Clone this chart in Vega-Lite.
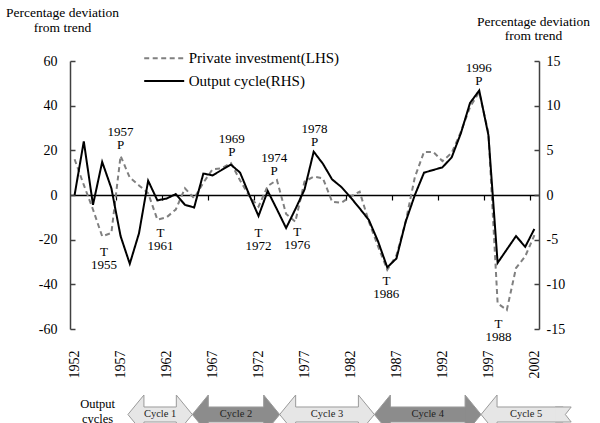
{
  "$schema": "https://vega.github.io/schema/vega-lite/v6.json",
  "padding": {"left": 5, "top": 5, "right": 0, "bottom": 0},
  "config": {
    "font": "Liberation Serif, Times New Roman, serif",
    "view": {"stroke": null},
    "axis": {"labelFont": "Liberation Serif, Times New Roman, serif", "titleFont": "Liberation Serif, Times New Roman, serif", "labelColor": "#000", "titleColor": "#000", "labelFontSize": 14, "titleFontSize": 13.5, "titleFontWeight": "normal", "grid": false},
    "legend": {"labelFont": "Liberation Serif, Times New Roman, serif"},
    "text": {"font": "Liberation Serif, Times New Roman, serif"}
  },
  "datasets": {
    "series": [
      {"year":1952,"series":"Private investment(LHS)","value":16},
      {"year":1953,"series":"Private investment(LHS)","value":4.5},
      {"year":1954,"series":"Private investment(LHS)","value":-6.5},
      {"year":1955,"series":"Private investment(LHS)","value":-18.5},
      {"year":1956,"series":"Private investment(LHS)","value":-17},
      {"year":1957,"series":"Private investment(LHS)","value":17.5},
      {"year":1958,"series":"Private investment(LHS)","value":7.8},
      {"year":1959,"series":"Private investment(LHS)","value":4.3},
      {"year":1960,"series":"Private investment(LHS)","value":0.8},
      {"year":1961,"series":"Private investment(LHS)","value":-11},
      {"year":1962,"series":"Private investment(LHS)","value":-10},
      {"year":1963,"series":"Private investment(LHS)","value":-6.5},
      {"year":1964,"series":"Private investment(LHS)","value":3},
      {"year":1965,"series":"Private investment(LHS)","value":-1.5},
      {"year":1966,"series":"Private investment(LHS)","value":5.5},
      {"year":1967,"series":"Private investment(LHS)","value":11.5},
      {"year":1968,"series":"Private investment(LHS)","value":12},
      {"year":1969,"series":"Private investment(LHS)","value":14.3},
      {"year":1970,"series":"Private investment(LHS)","value":6.5},
      {"year":1971,"series":"Private investment(LHS)","value":-0.5},
      {"year":1972,"series":"Private investment(LHS)","value":-5.2},
      {"year":1973,"series":"Private investment(LHS)","value":4},
      {"year":1974,"series":"Private investment(LHS)","value":6.7},
      {"year":1975,"series":"Private investment(LHS)","value":-8.5},
      {"year":1976,"series":"Private investment(LHS)","value":-12},
      {"year":1977,"series":"Private investment(LHS)","value":6},
      {"year":1978,"series":"Private investment(LHS)","value":8.2},
      {"year":1979,"series":"Private investment(LHS)","value":7.5},
      {"year":1980,"series":"Private investment(LHS)","value":-3},
      {"year":1981,"series":"Private investment(LHS)","value":-3.5},
      {"year":1982,"series":"Private investment(LHS)","value":-0.7},
      {"year":1983,"series":"Private investment(LHS)","value":1.5},
      {"year":1984,"series":"Private investment(LHS)","value":-12},
      {"year":1985,"series":"Private investment(LHS)","value":-23},
      {"year":1986,"series":"Private investment(LHS)","value":-33.5},
      {"year":1987,"series":"Private investment(LHS)","value":-27},
      {"year":1988,"series":"Private investment(LHS)","value":-12},
      {"year":1989,"series":"Private investment(LHS)","value":8},
      {"year":1990,"series":"Private investment(LHS)","value":19.3},
      {"year":1991,"series":"Private investment(LHS)","value":19.3},
      {"year":1992,"series":"Private investment(LHS)","value":15.2},
      {"year":1993,"series":"Private investment(LHS)","value":18.8},
      {"year":1994,"series":"Private investment(LHS)","value":28.2},
      {"year":1995,"series":"Private investment(LHS)","value":39.4},
      {"year":1996,"series":"Private investment(LHS)","value":46},
      {"year":1997,"series":"Private investment(LHS)","value":27.8},
      {"year":1998,"series":"Private investment(LHS)","value":-48.5},
      {"year":1999,"series":"Private investment(LHS)","value":-51.5},
      {"year":2000,"series":"Private investment(LHS)","value":-32.7},
      {"year":2001,"series":"Private investment(LHS)","value":-27.5},
      {"year":2002,"series":"Private investment(LHS)","value":-18},
      {"year":1952,"series":"Output cycle(RHS)","value":0},
      {"year":1953,"series":"Output cycle(RHS)","value":6.0},
      {"year":1954,"series":"Output cycle(RHS)","value":-1.1},
      {"year":1955,"series":"Output cycle(RHS)","value":3.7},
      {"year":1956,"series":"Output cycle(RHS)","value":0.75},
      {"year":1957,"series":"Output cycle(RHS)","value":-4.6},
      {"year":1958,"series":"Output cycle(RHS)","value":-7.7},
      {"year":1959,"series":"Output cycle(RHS)","value":-4.3},
      {"year":1960,"series":"Output cycle(RHS)","value":1.6},
      {"year":1961,"series":"Output cycle(RHS)","value":-0.6},
      {"year":1962,"series":"Output cycle(RHS)","value":-0.4},
      {"year":1963,"series":"Output cycle(RHS)","value":0.1},
      {"year":1964,"series":"Output cycle(RHS)","value":-1.1},
      {"year":1965,"series":"Output cycle(RHS)","value":-1.4},
      {"year":1966,"series":"Output cycle(RHS)","value":2.4},
      {"year":1967,"series":"Output cycle(RHS)","value":2.2},
      {"year":1968,"series":"Output cycle(RHS)","value":2.8},
      {"year":1969,"series":"Output cycle(RHS)","value":3.4},
      {"year":1970,"series":"Output cycle(RHS)","value":2.5},
      {"year":1971,"series":"Output cycle(RHS)","value":0.0},
      {"year":1972,"series":"Output cycle(RHS)","value":-2.35},
      {"year":1973,"series":"Output cycle(RHS)","value":0.45},
      {"year":1974,"series":"Output cycle(RHS)","value":-1.6},
      {"year":1975,"series":"Output cycle(RHS)","value":-3.7},
      {"year":1976,"series":"Output cycle(RHS)","value":-1.6},
      {"year":1977,"series":"Output cycle(RHS)","value":0.6},
      {"year":1978,"series":"Output cycle(RHS)","value":4.85},
      {"year":1979,"series":"Output cycle(RHS)","value":3.5},
      {"year":1980,"series":"Output cycle(RHS)","value":1.75},
      {"year":1981,"series":"Output cycle(RHS)","value":0.9},
      {"year":1982,"series":"Output cycle(RHS)","value":-0.25},
      {"year":1983,"series":"Output cycle(RHS)","value":-1.5},
      {"year":1984,"series":"Output cycle(RHS)","value":-2.8},
      {"year":1985,"series":"Output cycle(RHS)","value":-5.2},
      {"year":1986,"series":"Output cycle(RHS)","value":-8.1},
      {"year":1987,"series":"Output cycle(RHS)","value":-7.1},
      {"year":1988,"series":"Output cycle(RHS)","value":-3.0},
      {"year":1989,"series":"Output cycle(RHS)","value":0.0},
      {"year":1990,"series":"Output cycle(RHS)","value":2.5},
      {"year":1991,"series":"Output cycle(RHS)","value":2.8},
      {"year":1992,"series":"Output cycle(RHS)","value":3.1},
      {"year":1993,"series":"Output cycle(RHS)","value":4.2},
      {"year":1994,"series":"Output cycle(RHS)","value":6.9},
      {"year":1995,"series":"Output cycle(RHS)","value":10.3},
      {"year":1996,"series":"Output cycle(RHS)","value":11.7},
      {"year":1997,"series":"Output cycle(RHS)","value":6.7},
      {"year":1998,"series":"Output cycle(RHS)","value":-7.6},
      {"year":1999,"series":"Output cycle(RHS)","value":-6.1},
      {"year":2000,"series":"Output cycle(RHS)","value":-4.6},
      {"year":2001,"series":"Output cycle(RHS)","value":-5.8},
      {"year":2002,"series":"Output cycle(RHS)","value":-3.8}
    ],
    "notes": [
      {"label":"1957\nP","year":1957.0,"value":25.2},
      {"label":"T\n1955","year":1955.2,"value":-28.4},
      {"label":"T\n1961","year":1961.35,"value":-19.8},
      {"label":"1969\nP","year":1969.1,"value":22.0},
      {"label":"1974\nP","year":1973.7,"value":13.8},
      {"label":"T\n1972","year":1972.0,"value":-19.8},
      {"label":"T\n1976","year":1976.2,"value":-19.7},
      {"label":"1978\nP","year":1978.1,"value":26.7},
      {"label":"T\n1986","year":1985.9,"value":-41.2},
      {"label":"1996\nP","year":1995.95,"value":53.9},
      {"label":"T\n1988","year":1998.1,"value":-60.5}
    ],
    "cycles": [
      {"cycle":"Cycle 1","start":1957.8,"end":1964.8},
      {"cycle":"Cycle 2","start":1964.8,"end":1974.3},
      {"cycle":"Cycle 3","start":1974.3,"end":1984.6},
      {"cycle":"Cycle 4","start":1984.6,"end":1996.2},
      {"cycle":"Cycle 5","start":1996.2,"end":2006.0}
    ]
  },
  "bounds": "flush",
  "spacing": 66,
  "vconcat": [
    {
      "width": 469,
      "height": 268,
      "layer": [
        {
          "encoding": {
            "x": {"field": "year", "type": "quantitative",
              "scale": {"domain": [1951.5, 2002.5], "nice": false, "zero": false},
              "axis": {"orient": "bottom", "values": [1952,1957,1962,1967,1972,1977,1982,1987,1992,1997,2002], "format": "d", "labelAngle": -90, "labelAlign": "right", "labelBaseline": "middle", "labelPadding": 21, "ticks": false, "domain": false, "labelFlush": false, "labelOverlap": false, "title": null}},
            "y": {"field": "value", "type": "quantitative",
              "scale": {"domain": [-60, 60], "nice": false},
              "axis": {"orient": "left", "values": [-60,-40,-20,0,20,40,60], "tickSize": -5, "tickColor": "#404040", "tickWidth": 1.5, "domainColor": "#404040", "domainWidth": 1.5, "labelPadding": 18, "labelExpr": "replace(datum.label, '\u2212', '-')", "title": ["Percentage deviation", "from trend"], "titleAngle": 0, "titleAlign": "center", "titleBaseline": "top", "titleX": -8, "titleY": -56, "titleLineHeight": 15}}
          },
          "layer": [
            {
              "data": {"name": "series"},
              "transform": [{"filter": "datum.series === 'Private investment(LHS)'"}],
              "mark": {"type": "line", "strokeWidth": 2},
              "encoding": {
                "color": {"field": "series", "type": "nominal", "scale": {"domain": ["Private investment(LHS)", "Output cycle(RHS)"], "range": ["#808080", "#000000"]},
                  "legend": {"orient": "none", "legendX": 86.7, "legendY": -10.2, "title": null, "symbolType": "M-4,0L4,0", "symbolSize": 100, "symbolStrokeWidth": 2, "labelFontSize": 15, "labelColor": "#000", "labelOffset": 17, "rowPadding": 6.7, "padding": 0}},
                "strokeDash": {"field": "series", "type": "nominal", "scale": {"domain": ["Private investment(LHS)", "Output cycle(RHS)"], "range": [[5, 3.5], [1, 0]]},
                  "legend": {"orient": "none", "legendX": 86.7, "legendY": -10.2, "title": null, "symbolType": "M-4,0L4,0", "symbolSize": 100, "symbolStrokeWidth": 2, "labelFontSize": 15, "labelColor": "#000", "labelOffset": 17, "rowPadding": 6.7, "padding": 0}}
              }
            },
            {
              "data": {"name": "notes"},
              "mark": {"type": "text", "fontSize": 13, "lineBreak": "\n", "lineHeight": 13, "align": "center", "baseline": "middle", "dy": -6.5, "color": "#000"},
              "encoding": {"text": {"field": "label", "type": "nominal"}}
            }
          ]
        },
        {
          "data": {"name": "series"},
          "transform": [{"filter": "datum.series === 'Output cycle(RHS)'"}],
          "mark": {"type": "line", "strokeWidth": 2},
          "encoding": {
            "x": {"field": "year", "type": "quantitative",
              "scale": {"domain": [1951.5, 2002.5], "nice": false, "zero": false},
              "axis": {"orient": "bottom", "offset": -134, "values": [1956.5,1961.5,1966.5,1971.5,1976.5,1981.5,1986.5,1991.5,1996.5,2001.5], "labels": false, "ticks": true, "tickSize": 5, "tickColor": "#000", "tickWidth": 1.2, "domain": true, "domainColor": "#000", "domainWidth": 1.5, "title": null}},
            "y": {"field": "value", "type": "quantitative",
              "scale": {"domain": [-15, 15], "nice": false},
              "axis": {"orient": "right", "values": [-15,-10,-5,0,5,10,15], "tickSize": -5, "tickColor": "#404040", "tickWidth": 1.5, "domainColor": "#404040", "domainWidth": 1.5, "labelPadding": 12, "labelExpr": "replace(datum.label, '\u2212', '-')", "title": ["Percentage deviation", "from trend"], "titleAngle": 0, "titleAlign": "center", "titleBaseline": "top", "titleX": -6, "titleY": -47, "titleLineHeight": 14}},
            "color": {"field": "series", "type": "nominal", "scale": {"domain": ["Private investment(LHS)", "Output cycle(RHS)"], "range": ["#808080", "#000000"]},
              "legend": {"orient": "none", "legendX": 86.7, "legendY": -10.2, "title": null, "symbolType": "M-4,0L4,0", "symbolSize": 100, "symbolStrokeWidth": 2, "labelFontSize": 15, "labelColor": "#000", "labelOffset": 17, "rowPadding": 6.7, "padding": 0}},
            "strokeDash": {"field": "series", "type": "nominal", "scale": {"domain": ["Private investment(LHS)", "Output cycle(RHS)"], "range": [[5, 3.5], [1, 0]]},
              "legend": {"orient": "none", "legendX": 86.7, "legendY": -10.2, "title": null, "symbolType": "M-4,0L4,0", "symbolSize": 100, "symbolStrokeWidth": 2, "labelFontSize": 15, "labelColor": "#000", "labelOffset": 17, "rowPadding": 6.7, "padding": 0}}
          }
        }
      ],
      "resolve": {"scale": {"y": "independent"}, "axis": {"x": "independent", "y": "independent"}}
    },
    {
      "width": 469,
      "height": 39,
      "data": {"name": "cycles"},
      "layer": [
        {
          "mark": {"type": "rect", "xOffset": 8, "x2Offset": -8, "stroke": "#9a9a9a", "strokeWidth": 1},
          "encoding": {
            "x": {"field": "start", "type": "quantitative", "scale": {"domain": [1951.5, 2002.5], "nice": false, "zero": false}, "axis": null},
            "x2": {"field": "end"},
            "y": {"datum": -0.385, "type": "quantitative", "scale": {"domain": [-1, 1], "nice": false},
              "axis": {"title": ["Output", "cycles"], "titleAngle": 0, "titleAlign": "center", "titleBaseline": "top", "titleX": 27, "titleY": 2, "titleFontSize": 12.5, "titleLineHeight": 15, "labels": false, "ticks": false, "domain": false}},
            "y2": {"datum": 0.385},
            "fill": {"field": "cycle", "type": "nominal", "scale": {"domain": ["Cycle 1","Cycle 2","Cycle 3","Cycle 4","Cycle 5"], "range": ["#e6e6e6","#8c8c8c","#e6e6e6","#8c8c8c","#e6e6e6"]}, "legend": null}
          }
        },
        {
          "mark": {"type": "point", "shape": "M0.82,-0.385L0.82,-1L0,0L0.82,1L0.82,0.385", "size": 1521, "filled": true, "opacity": 1, "stroke": "#9a9a9a", "strokeWidth": 1},
          "encoding": {
            "x": {"field": "start", "type": "quantitative", "scale": {"domain": [1951.5, 2002.5], "nice": false, "zero": false}, "axis": null},
            "y": {"datum": 0, "type": "quantitative"},
            "fill": {"field": "cycle", "type": "nominal", "legend": null}
          }
        },
        {
          "transform": [{"filter": "datum.cycle !== 'Cycle 5'"}],
          "mark": {"type": "point", "shape": "M-0.82,-0.385L-0.82,-1L0,0L-0.82,1L-0.82,0.385", "size": 1521, "filled": true, "opacity": 1, "stroke": "#9a9a9a", "strokeWidth": 1},
          "encoding": {
            "x": {"field": "end", "type": "quantitative", "scale": {"domain": [1951.5, 2002.5], "nice": false, "zero": false}, "axis": null},
            "y": {"datum": 0, "type": "quantitative"},
            "fill": {"field": "cycle", "type": "nominal", "legend": null}
          }
        },
        {
          "transform": [{"filter": "datum.cycle === 'Cycle 5'"}],
          "mark": {"type": "point", "shape": "M-0.82,-0.385L0,-0.385L-0.3,0L0,0.385L-0.82,0.385", "size": 1521, "filled": true, "opacity": 1, "stroke": "#9a9a9a", "strokeWidth": 1},
          "encoding": {
            "x": {"field": "end", "type": "quantitative", "scale": {"domain": [1951.5, 2002.5], "nice": false, "zero": false}, "axis": null},
            "y": {"datum": 0, "type": "quantitative"},
            "fill": {"field": "cycle", "type": "nominal", "legend": null}
          }
        },
        {
          "transform": [
            {"fold": ["start", "end"], "as": ["edge", "yr"]},
            {"aggregate": [{"op": "mean", "field": "yr", "as": "mid"}], "groupby": ["cycle"]}
          ],
          "mark": {"type": "text", "fontSize": 10.5, "color": "#222", "align": "center", "baseline": "middle", "dy": -1},
          "encoding": {
            "x": {"field": "mid", "type": "quantitative", "scale": {"domain": [1951.5, 2002.5], "nice": false, "zero": false}, "axis": null},
            "y": {"datum": 0, "type": "quantitative"},
            "text": {"field": "cycle", "type": "nominal"}
          }
        }
      ]
    }
  ]
}
